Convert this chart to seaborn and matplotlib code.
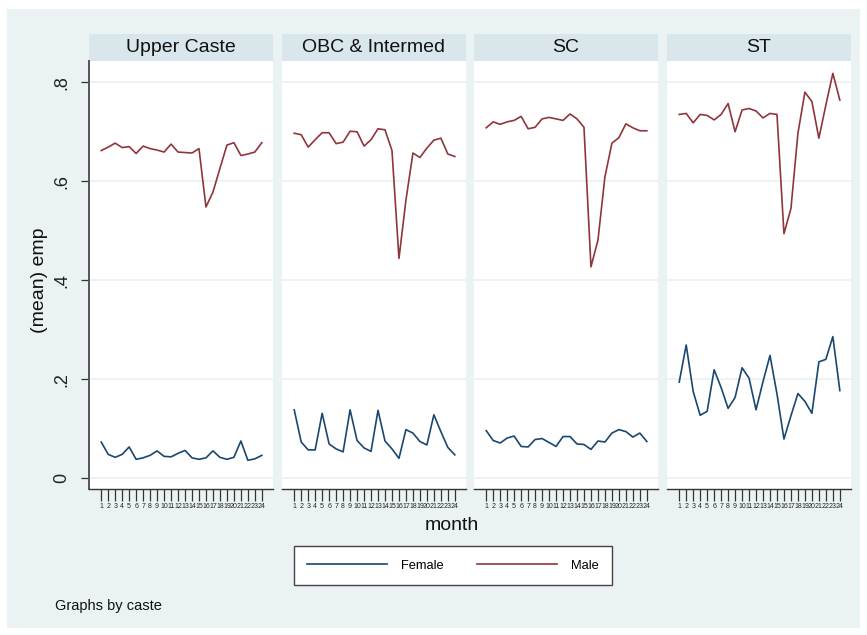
import numpy as np
import pandas as pd
import matplotlib
matplotlib.use("Agg")
import matplotlib.pyplot as plt
import seaborn as sns
from matplotlib.patches import Rectangle
from matplotlib.lines import Line2D

castes = ["Upper Caste", "OBC & Intermed", "SC", "ST"]
months = list(range(1, 25))

male_upper = [0.662, 0.669, 0.677, 0.668, 0.670, 0.656, 0.671, 0.666, 0.663, 0.659, 0.675, 0.659,
              0.658, 0.657, 0.666, 0.548, 0.578, 0.626, 0.673, 0.678, 0.652, 0.655, 0.659, 0.678]
male_obc = [0.697, 0.694, 0.669, 0.684, 0.698, 0.698, 0.676, 0.679, 0.701, 0.700, 0.671, 0.684,
            0.706, 0.704, 0.662, 0.444, 0.562, 0.657, 0.648, 0.667, 0.683, 0.687, 0.655, 0.650]
male_sc = [0.708, 0.720, 0.715, 0.720, 0.723, 0.731, 0.706, 0.709, 0.726, 0.729, 0.726, 0.723,
           0.736, 0.726, 0.709, 0.427, 0.481, 0.609, 0.677, 0.688, 0.716, 0.708, 0.702, 0.702]
male_st = [0.735, 0.737, 0.718, 0.735, 0.733, 0.724, 0.735, 0.757, 0.700, 0.744, 0.747, 0.742,
           0.728, 0.737, 0.735, 0.494, 0.545, 0.697, 0.780, 0.761, 0.687, 0.754, 0.818, 0.764]

female_upper = [0.073, 0.048, 0.042, 0.048, 0.063, 0.038, 0.041, 0.046, 0.055, 0.044, 0.043, 0.050,
                0.056, 0.041, 0.038, 0.041, 0.055, 0.042, 0.038, 0.042, 0.075, 0.036, 0.039, 0.046]
female_obc = [0.138, 0.073, 0.057, 0.057, 0.131, 0.069, 0.059, 0.053, 0.138, 0.076, 0.061, 0.054,
              0.137, 0.075, 0.059, 0.040, 0.098, 0.091, 0.074, 0.067, 0.128, 0.094, 0.062, 0.047]
female_sc = [0.096, 0.076, 0.071, 0.081, 0.085, 0.064, 0.063, 0.078, 0.080, 0.072, 0.064, 0.084,
             0.084, 0.069, 0.068, 0.058, 0.075, 0.073, 0.091, 0.098, 0.094, 0.083, 0.091, 0.074]
female_st = [0.194, 0.269, 0.175, 0.127, 0.135, 0.219, 0.183, 0.141, 0.163, 0.223, 0.202, 0.138,
             0.195, 0.248, 0.170, 0.079, 0.126, 0.171, 0.155, 0.131, 0.235, 0.240, 0.286, 0.177]

y_ticks = [0, 0.2, 0.4, 0.6, 0.8]
y_ticklabels = ["0", ".2", ".4", ".6", ".8"]

male = [male_upper, male_obc, male_sc, male_st]
female = [female_upper, female_obc, female_sc, female_st]

rows = []
for c, f, m in zip(castes, female, male):
    for mo, fv, mv in zip(months, f, m):
        rows.append((c, mo, "Female", fv))
        rows.append((c, mo, "Male", mv))
df = pd.DataFrame(rows, columns=["caste", "month", "sex", "emp"])

NAVY = "#1a476f"
MAROON = "#90353b"
BG = "#eaf2f3"
STRIP = "#d9e6eb"
palette = {"Female": NAVY, "Male": MAROON}

plt.rcParams["font.family"] = ["Liberation Sans", "DejaVu Sans"]

W, H = 867, 635
fig = plt.figure(figsize=(W / 100, H / 100), dpi=100, facecolor="white")


def fx(px):
    return px / W


def fy(py):
    return 1 - py / H


# graph region background
fig.patches.append(Rectangle((fx(7), fy(628)), fx(860) - fx(7), fy(9) - fy(628),
                             transform=fig.transFigure, facecolor=BG, edgecolor="none", zorder=-10))

lefts = [89, 282, 474, 667]
pw = 184
top, bottom = 61, 489
for i, (c, L) in enumerate(zip(castes, lefts)):
    ax = fig.add_axes([fx(L), fy(bottom), fx(pw), fy(top) - fy(bottom)])
    ax.set_zorder(2)
    ax.set_facecolor("white")
    for yv in y_ticks:
        ax.axhline(yv, color=BG, lw=1.3, zorder=0)
    sub = df[df["caste"] == c]
    sns.lineplot(data=sub, x="month", y="emp", hue="sex", hue_order=["Female", "Male"],
                 palette=palette, legend=False, ax=ax, lw=1.2)
    ax.set_xlim(-0.75, 25.6)
    ax.set_ylim(-0.022, 0.843)
    ax.set_xticks(months)
    ax.set_xticklabels([str(m) for m in months], fontsize=5.0, color="#222222")
    ax.tick_params(axis="x", length=8.5, width=0.9, color="#333333", pad=1.5)
    ax.set_xlabel("")
    ax.set_ylabel("")
    for s in ["top", "right"]:
        ax.spines[s].set_visible(False)
    ax.spines["bottom"].set_color("#333333")
    ax.spines["bottom"].set_linewidth(1.0)
    if i == 0:
        ax.spines["left"].set_color("#555555")
        ax.spines["left"].set_linewidth(1.4)
        ax.set_yticks(y_ticks)
        ax.set_yticklabels(y_ticklabels, rotation=90, va="center", fontsize=13, color="#222222")
        ax.tick_params(axis="y", length=5.5, width=0.9, color="#333333", pad=8)
    else:
        ax.spines["left"].set_visible(False)
        ax.set_yticks([])
    # strip
    fig.patches.append(Rectangle((fx(L), fy(top)), fx(pw), fy(34) - fy(top),
                                 transform=fig.transFigure, facecolor=STRIP, edgecolor="none", zorder=1))
    fig.text(fx(L + pw / 2), fy(47.5), c, ha="center", va="center", fontsize=14, color="#111111")

fig.text(fx(40), fy(280), "(mean) emp", rotation=90, ha="center", va="center", fontsize=14, color="#111111")
fig.text(fx(452), fy(525), "month", ha="center", va="center", fontsize=14, color="#111111")
fig.text(fx(55), fy(606), "Graphs by caste", ha="left", va="center", fontsize=10.5, color="#111111")

handles = [Line2D([0], [0], color=NAVY, lw=1.2), Line2D([0], [0], color=MAROON, lw=1.2)]
leg = fig.legend(handles, ["Female", "Male"], loc="center", bbox_to_anchor=(fx(453), fy(565.5)),
                 ncol=2, fontsize=9.3, handlelength=6.2, handletextpad=1.05, columnspacing=2.6,
                 frameon=True, fancybox=False, borderpad=1.05, borderaxespad=0, framealpha=1.0)
leg.get_frame().set_edgecolor("#444444")
leg.get_frame().set_linewidth(1.0)
leg.get_frame().set_facecolor("white")
leg.set_zorder(3)

fig.savefig("out.png", dpi=100, facecolor="white")
